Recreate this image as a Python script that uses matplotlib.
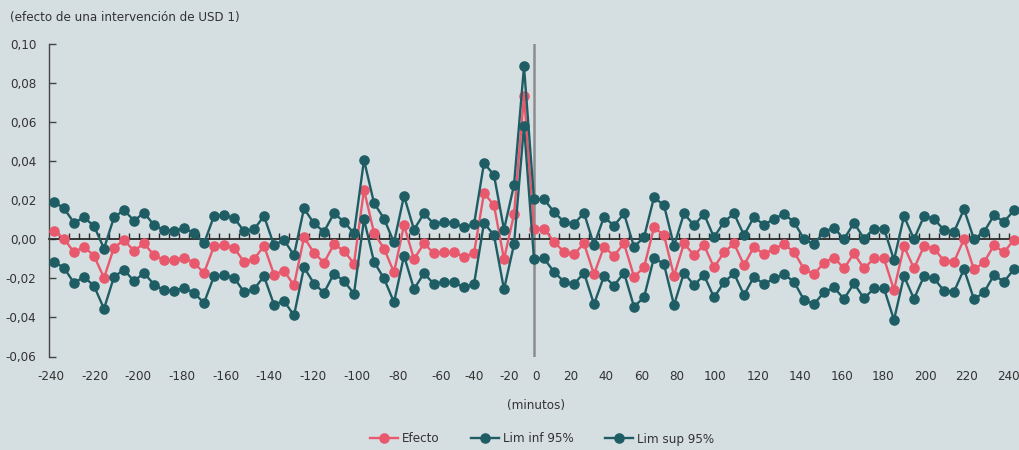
import numpy as np
import matplotlib.pyplot as plt
from matplotlib.ticker import FixedLocator

plt.rcParams['font.family'] = ['DejaVu Sans']
plt.rcParams['font.stretch'] = 'condensed'
plt.rcParams['axes.unicode_minus'] = False

# minutes around the intervention (one point every 5 minutes)
minutos = np.arange(-240, 241, 5)

efecto = [0.0041, 0.0003, -0.0068, -0.0039, -0.0085, -0.0198, -0.0043, -0.0005,
          -0.0060, -0.0022, -0.0082, -0.0108, -0.0108, -0.0094, -0.0121, -0.0173,
          -0.0036, -0.0032, -0.0044, -0.0116, -0.0103, -0.0034, -0.0181, -0.0162,
          -0.0236, 0.0009, -0.0070, -0.0120, -0.0026, -0.0060, -0.0125, 0.0252,
          0.0032, -0.0048, -0.0170, 0.0071, -0.0102, -0.0022, -0.0073, -0.0065,
          -0.0068, -0.0090, -0.0073, 0.0236, 0.0173, -0.0102, 0.0126, 0.0731,
          0.0051, 0.0054, -0.0014, -0.0065, -0.0077, -0.0022, -0.0180, -0.0039,
          -0.0085, -0.0022, -0.0192, -0.0145, 0.0060, 0.0020, -0.0187, -0.0022,
          -0.0082, -0.0031, -0.0145, -0.0068, -0.0022, -0.0133, -0.0039, -0.0078,
          -0.0048, -0.0027, -0.0065, -0.0153, -0.0179, -0.0121, -0.0094, -0.0150,
          -0.0073, -0.0150, -0.0099, -0.0099, -0.0260, -0.0036, -0.0150, -0.0036,
          -0.0048, -0.0111, -0.0116, 0.0000, -0.0155, -0.0119, -0.0031, -0.0068,
          -0.0002]

lim_inf = [-0.0116, -0.0147, -0.0224, -0.0193, -0.0239, -0.0356, -0.0193, -0.0156,
           -0.0215, -0.0173, -0.0232, -0.0262, -0.0265, -0.0248, -0.0275, -0.0326,
           -0.0190, -0.0185, -0.0197, -0.0270, -0.0256, -0.0190, -0.0335, -0.0316,
           -0.0390, -0.0145, -0.0227, -0.0274, -0.0176, -0.0215, -0.0279, 0.0101,
           -0.0116, -0.0201, -0.0323, -0.0085, -0.0255, -0.0175, -0.0230, -0.0218,
           -0.0221, -0.0247, -0.0231, 0.0083, 0.0020, -0.0257, -0.0027, 0.0578,
           -0.0102, -0.0099, -0.0167, -0.0218, -0.0230, -0.0172, -0.0333, -0.0189,
           -0.0238, -0.0172, -0.0345, -0.0298, -0.0094, -0.0129, -0.0337, -0.0172,
           -0.0235, -0.0184, -0.0298, -0.0221, -0.0175, -0.0286, -0.0192, -0.0231,
           -0.0201, -0.0180, -0.0218, -0.0311, -0.0332, -0.0272, -0.0247, -0.0306,
           -0.0226, -0.0303, -0.0252, -0.0252, -0.0413, -0.0189, -0.0306, -0.0189,
           -0.0201, -0.0264, -0.0269, -0.0153, -0.0308, -0.0272, -0.0184, -0.0218,
           -0.0153]

lim_sup = [0.0191, 0.0157, 0.0084, 0.0111, 0.0067, -0.0048, 0.0111, 0.0149,
           0.0094, 0.0135, 0.0072, 0.0046, 0.0043, 0.0055, 0.0032, -0.0022,
           0.0118, 0.0121, 0.0109, 0.0041, 0.0050, 0.0118, -0.0031, -0.0005,
           -0.0082, 0.0157, 0.0080, 0.0038, 0.0132, 0.0089, 0.0029, 0.0404,
           0.0185, 0.0105, -0.0017, 0.0221, 0.0049, 0.0131, 0.0077, 0.0088,
           0.0083, 0.0060, 0.0075, 0.0389, 0.0327, 0.0049, 0.0276, 0.0883,
           0.0203, 0.0204, 0.0139, 0.0088, 0.0077, 0.0134, -0.0031, 0.0114,
           0.0068, 0.0131, -0.0039, 0.0009, 0.0213, 0.0173, -0.0034, 0.0131,
           0.0071, 0.0128, 0.0009, 0.0088, 0.0131, 0.0020, 0.0114, 0.0071,
           0.0105, 0.0128, 0.0088, 0.0000, -0.0026, 0.0037, 0.0058, 0.0000,
           0.0083, 0.0003, 0.0054, 0.0054, -0.0107, 0.0117, 0.0000, 0.0117,
           0.0104, 0.0046, 0.0037, 0.0153, 0.0000, 0.0037, 0.0122, 0.0088,
           0.0148]

xlabels = ['-240', '-220', '-200', '-180', '-160', '-140', '-120', '-100', '-80',
           '-60', '-40', '-20', '0', '20', '40', '60', '80', '100', '120', '140',
           '160', '180', '200', '220', '240']
# where the labels sit in the reference (they are not evenly spaced there)
xlabel_at = [-241.5, -219.5, -198, -176, -154, -132.5, -110.5, -88.5, -68,
             -46.5, -30, -12.5, 1, 18.5, 36, 54, 71.5, 90.5, 112, 133,
             154, 174.5, 195.5, 216.5, 237]

yticks = [-0.06, -0.04, -0.02, 0.0, 0.02, 0.04, 0.06, 0.08, 0.10]
ylabels = ['-0,06', '-0,04', '-0,02', '0,00', '0,02', '0,04', '0,06', '0,08', '0,10']

bg = '#d5dee1'
rojo = '#e8596d'
verde = '#1f5d64'
gris = '#333333'
fs = 9.5

fig = plt.figure(figsize=(10.2, 4.5), dpi=100, facecolor=bg)
ax = fig.add_axes([49 / 1020, 1 - 356.5 / 450, 970 / 1020, 313 / 450])
ax.set_facecolor(bg)

ax.axvline(0, color='#8c8c8c', lw=1.8, zorder=1.5)
ax.plot(minutos, efecto, color=rojo, lw=1.7, marker='o', ms=6.6, label='Efecto', zorder=3)
ax.plot(minutos, lim_inf, color=verde, lw=1.7, marker='o', ms=6.6, label='Lim inf 95%', zorder=4)
ax.plot(minutos, lim_sup, color=verde, lw=1.7, marker='o', ms=6.6, label='Lim sup 95%', zorder=4)

ax.set_xlim(-242.5, 242.5)
ax.set_ylim(-0.06, 0.10)

for s in ['top', 'right']:
    ax.spines[s].set_visible(False)
ax.spines['bottom'].set_position(('data', 0))
ax.spines['bottom'].set_color('#2b2b2b')
ax.spines['bottom'].set_linewidth(1.3)
ax.spines['bottom'].set_zorder(2)
ax.spines['left'].set_color('#444444')
ax.spines['left'].set_linewidth(1.0)

ax.set_yticks(yticks)
ax.set_yticklabels(ylabels)
ax.tick_params(axis='y', direction='in', length=5, width=1, color='#444444',
               pad=9, labelsize=fs, labelcolor=gris)

ax.set_xticks(xlabel_at)
ax.set_xticklabels(xlabels)
ax.xaxis.set_minor_locator(FixedLocator(np.arange(-237.5, 240, 5)))
ax.tick_params(axis='x', which='major', length=0, pad=94, labelsize=fs, labelcolor=gris)
ax.tick_params(axis='x', which='minor', direction='in', length=4, width=1, color='#2b2b2b')

fig.text(10 / 1020, 1 - 18 / 450, '(efecto de una intervención de USD 1)',
         ha='left', va='center', fontsize=fs, color=gris)
fig.text(536 / 1020, 1 - 405 / 450, '(minutos)', ha='center', va='center',
         fontsize=fs, color=gris)

fig.legend(loc='center', bbox_to_anchor=(542 / 1020, 1 - 439 / 450), ncol=3,
           frameon=False, fontsize=fs, handlelength=2.1, handletextpad=0.3,
           columnspacing=2.4, labelcolor=gris)

fig.savefig('out.png', dpi=100, facecolor=bg)
